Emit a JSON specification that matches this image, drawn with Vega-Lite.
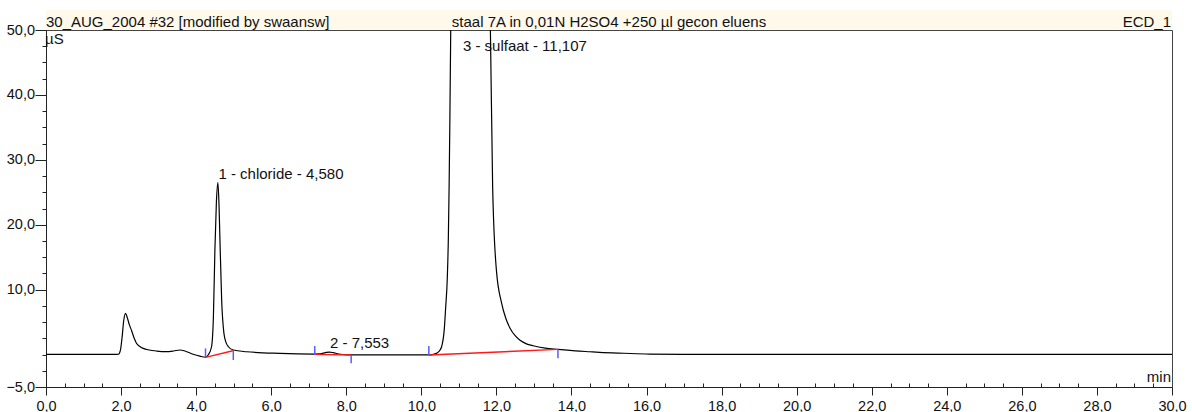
{
  "$schema": "https://vega.github.io/schema/vega-lite/v6.json",
  "width": 1126,
  "height": 357,
  "autosize": "none",
  "padding": {"left": 46, "top": 30, "right": 20, "bottom": 25},
  "background": "white",
  "config": {
    "font": "Liberation Sans",
    "view": {"stroke": "#444444", "strokeWidth": 1},
    "text": {"font": "Liberation Sans", "fontSize": 15, "color": "#111111"},
    "axis": {
      "domainColor": "#222222",
      "tickColor": "#222222",
      "labelColor": "#111111",
      "labelFont": "Liberation Sans",
      "labelFontSize": 14.5,
      "grid": false
    }
  },
  "datasets": {
    "trace": [
      {"t": 0, "v": 0.02}, {"t": 1.0, "v": 0.02}, {"t": 1.85, "v": 0.02}, {"t": 1.93, "v": 0.05},
      {"t": 1.98, "v": 0.6}, {"t": 2.03, "v": 2.8}, {"t": 2.07, "v": 5.2}, {"t": 2.12, "v": 6.35},
      {"t": 2.17, "v": 5.6}, {"t": 2.22, "v": 4.6}, {"t": 2.28, "v": 3.7}, {"t": 2.35, "v": 2.5},
      {"t": 2.41, "v": 1.75}, {"t": 2.5, "v": 1.25}, {"t": 2.59, "v": 0.95}, {"t": 2.75, "v": 0.7},
      {"t": 2.95, "v": 0.54}, {"t": 3.2, "v": 0.45}, {"t": 3.4, "v": 0.55}, {"t": 3.57, "v": 0.7},
      {"t": 3.7, "v": 0.55}, {"t": 3.92, "v": 0.05}, {"t": 4.1, "v": -0.25}, {"t": 4.25, "v": -0.42},
      {"t": 4.33, "v": 0.0}, {"t": 4.41, "v": 1.2}, {"t": 4.46, "v": 5.8}, {"t": 4.5, "v": 16.1},
      {"t": 4.54, "v": 23.5}, {"t": 4.58, "v": 26.5}, {"t": 4.61, "v": 23.0}, {"t": 4.63, "v": 18.7},
      {"t": 4.68, "v": 8.4}, {"t": 4.74, "v": 3.3}, {"t": 4.8, "v": 1.8}, {"t": 4.86, "v": 1.2},
      {"t": 4.99, "v": 0.7}, {"t": 5.34, "v": 0.43}, {"t": 6.23, "v": 0.18}, {"t": 7.12, "v": 0.08},
      {"t": 7.3, "v": 0.1}, {"t": 7.45, "v": 0.3}, {"t": 7.55, "v": 0.38}, {"t": 7.65, "v": 0.3},
      {"t": 7.8, "v": 0.08}, {"t": 8.13, "v": -0.06}, {"t": 9.0, "v": -0.06}, {"t": 10.2, "v": -0.06},
      {"t": 10.3, "v": 0.0}, {"t": 10.4, "v": 0.18}, {"t": 10.5, "v": 0.7}, {"t": 10.54, "v": 1.2},
      {"t": 10.61, "v": 3.8}, {"t": 10.65, "v": 7.4}, {"t": 10.69, "v": 11.5}, {"t": 10.72, "v": 18.0},
      {"t": 10.74, "v": 25.8}, {"t": 10.76, "v": 36.0}, {"t": 10.8, "v": 60.0}, {"t": 10.9, "v": 95.0},
      {"t": 11.1, "v": 120.0}, {"t": 11.4, "v": 115.0}, {"t": 11.65, "v": 90.0}, {"t": 11.78, "v": 62.0},
      {"t": 11.84, "v": 50.0}, {"t": 11.9, "v": 25.8}, {"t": 12.0, "v": 13.0}, {"t": 12.14, "v": 7.9},
      {"t": 12.25, "v": 5.6}, {"t": 12.36, "v": 4.1}, {"t": 12.5, "v": 2.9}, {"t": 12.62, "v": 2.23},
      {"t": 12.8, "v": 1.65}, {"t": 12.98, "v": 1.35}, {"t": 13.3, "v": 1.0}, {"t": 13.64, "v": 0.8},
      {"t": 14.1, "v": 0.57}, {"t": 14.49, "v": 0.43}, {"t": 14.75, "v": 0.34}, {"t": 15.4, "v": 0.2},
      {"t": 16.08, "v": 0.08}, {"t": 17.4, "v": 0.03}, {"t": 20.0, "v": 0.02}, {"t": 25.0, "v": 0.02},
      {"t": 30.0, "v": 0.02}
    ],
    "peaks": [
      {"no": 1, "name": "chloride", "rt": 4.58, "height": 26.5, "label": "1 - chloride - 4,580"},
      {"no": 2, "name": "", "rt": 7.553, "height": 0.38, "label": "2 - 7,553"},
      {"no": 3, "name": "sulfaat", "rt": 11.107, "height": 120.0, "label": "3 - sulfaat - 11,107"}
    ],
    "baselines": [
      {"no": 1, "t": 4.25, "v": -0.43, "t2": 4.98, "v2": 0.59},
      {"no": 2, "t": 7.16, "v": 0.03, "t2": 8.13, "v2": -0.08},
      {"no": 3, "t": 10.2, "v": -0.06, "t2": 13.64, "v2": 0.8}
    ],
    "delimiters": [
      {"no": 1, "t": 4.25, "v": -0.43, "v2": 0.95},
      {"no": 1, "t": 4.99, "v": 0.54, "v2": -0.85},
      {"no": 2, "t": 7.16, "v": -0.08, "v2": 1.31},
      {"no": 2, "t": 8.13, "v": -0.08, "v2": -1.35},
      {"no": 3, "t": 10.2, "v": -0.08, "v2": 1.31},
      {"no": 3, "t": 13.64, "v": 0.8, "v2": -0.58}
    ]
  },
  "layer": [
    {
      "data": {"name": "trace"},
      "mark": {"type": "line", "color": "#000000", "strokeWidth": 1.2, "interpolate": "monotone", "clip": true},
      "encoding": {
        "x": {
          "field": "t", "type": "quantitative",
          "scale": {"domain": [0, 30], "nice": false, "zero": false},
          "axis": {
            "values": [0,0.5,1,1.5,2,2.5,3,3.5,4,4.5,5,5.5,6,6.5,7,7.5,8,8.5,9,9.5,10,10.5,11,11.5,12,12.5,13,13.5,14,14.5,15,15.5,16,16.5,17,17.5,18,18.5,19,19.5,20,20.5,21,21.5,22,22.5,23,23.5,24,24.5,25,25.5,26,26.5,27,27.5,28,28.5,29,29.5,30],
            "tickCount": 200,
            "labelExpr": "datum.value % 2 === 0 ? replace(format(datum.value, '.1f'), '.', ',') : ''",
            "tickSize": {"condition": {"test": "datum.value % 2 === 0", "value": 8}, "value": -4},
            "labelPadding": 4,
            "labelFlush": false,
            "labelOverlap": false,
            "title": null
          }
        },
        "y": {
          "field": "v", "type": "quantitative",
          "scale": {"domain": [-5, 50], "nice": false, "zero": false},
          "axis": {
            "values": [-5,-2.5,0,2.5,5,7.5,10,12.5,15,17.5,20,22.5,25,27.5,30,32.5,35,37.5,40,42.5,45,47.5,50],
            "tickCount": 200,
            "labelExpr": "(datum.value % 10 === 0 && datum.value !== 0) || datum.value === -5 ? replace(format(datum.value, '.1f'), '.', ',') : ''",
            "tickSize": {"condition": {"test": "(datum.value % 10 === 0 && datum.value !== 0) || datum.value === -5", "value": 11}, "value": 4},
            "labelPadding": 0.5,
            "labelFlush": false,
            "labelOverlap": false,
            "title": null
          }
        }
      }
    },
    {
      "data": {"name": "baselines"},
      "mark": {"type": "rule", "color": "#ff1a1a", "strokeWidth": 1.4},
      "encoding": {
        "x": {"field": "t", "type": "quantitative", "axis": {"title": null}},
        "y": {"field": "v", "type": "quantitative", "axis": {"title": null}},
        "x2": {"field": "t2"},
        "y2": {"field": "v2"}
      }
    },
    {
      "data": {"name": "delimiters"},
      "mark": {"type": "rule", "color": "#5a5aff", "strokeWidth": 1.5},
      "encoding": {
        "x": {"field": "t", "type": "quantitative", "axis": {"title": null}},
        "y": {"field": "v", "type": "quantitative", "axis": {"title": null}},
        "y2": {"field": "v2"}
      }
    },
    {
      "data": {"name": "peaks"},
      "transform": [{"filter": "datum.height <= 50"}],
      "mark": {"type": "text", "align": "left", "baseline": "alphabetic", "dy": -4, "dx": 0.5},
      "encoding": {
        "x": {"field": "rt", "type": "quantitative", "axis": {"title": null}},
        "y": {"field": "height", "type": "quantitative", "axis": {"title": null}},
        "text": {"field": "label"}
      }
    },
    {
      "data": {"name": "peaks"},
      "transform": [{"filter": "datum.height > 50"}],
      "mark": {"type": "text", "align": "left", "baseline": "top", "dy": 9},
      "encoding": {
        "x": {"field": "rt", "type": "quantitative", "axis": {"title": null}},
        "y": {"datum": 50, "type": "quantitative", "axis": {"title": null}},
        "text": {"field": "label"}
      }
    },
    {
      "data": {"values": [{}]},
      "mark": {"type": "rect", "color": "#FFF9EC", "clip": false},
      "encoding": {
        "x": {"datum": 0, "type": "quantitative", "axis": {"title": null}},
        "x2": {"datum": 30},
        "y": {"datum": 50.08, "type": "quantitative", "axis": {"title": null}},
        "y2": {"datum": 53.08}
      }
    },
    {
      "data": {"values": [
        {"pos": "left", "text": "30_AUG_2004 #32 [modified by swaansw]"},
        {"pos": "center", "text": "staal 7A in 0,01N H2SO4 +250 µl gecon eluens"},
        {"pos": "right", "text": "ECD_1"}
      ]},
      "layer": [
        {
          "transform": [{"filter": "datum.pos === 'left'"}],
          "mark": {"type": "text", "align": "left", "baseline": "alphabetic", "dy": -3.5},
          "encoding": {
            "x": {"datum": 0, "type": "quantitative", "axis": {"title": null}},
            "y": {"datum": 50, "type": "quantitative", "axis": {"title": null}},
            "text": {"field": "text"}
          }
        },
        {
          "transform": [{"filter": "datum.pos === 'center'"}],
          "mark": {"type": "text", "align": "center", "baseline": "alphabetic", "dy": -3.5},
          "encoding": {
            "x": {"datum": 15, "type": "quantitative", "axis": {"title": null}},
            "y": {"datum": 50, "type": "quantitative", "axis": {"title": null}},
            "text": {"field": "text"}
          }
        },
        {
          "transform": [{"filter": "datum.pos === 'right'"}],
          "mark": {"type": "text", "align": "right", "baseline": "alphabetic", "dy": -3.5, "dx": -1},
          "encoding": {
            "x": {"datum": 30, "type": "quantitative", "axis": {"title": null}},
            "y": {"datum": 50, "type": "quantitative", "axis": {"title": null}},
            "text": {"field": "text"}
          }
        }
      ]
    },
    {
      "data": {"values": [{"unit": "µS"}]},
      "mark": {"type": "text", "align": "left", "baseline": "top", "dy": 2, "dx": -1},
      "encoding": {
        "x": {"datum": 0, "type": "quantitative", "axis": {"title": null}},
        "y": {"datum": 50, "type": "quantitative", "axis": {"title": null}},
        "text": {"field": "unit"}
      }
    },
    {
      "data": {"values": [{"unit": "min"}]},
      "mark": {"type": "text", "align": "right", "baseline": "alphabetic", "dy": -5.5, "dx": -1},
      "encoding": {
        "x": {"datum": 30, "type": "quantitative", "axis": {"title": null}},
        "y": {"datum": -5, "type": "quantitative", "axis": {"title": null}},
        "text": {"field": "unit"}
      }
    }
  ]
}
